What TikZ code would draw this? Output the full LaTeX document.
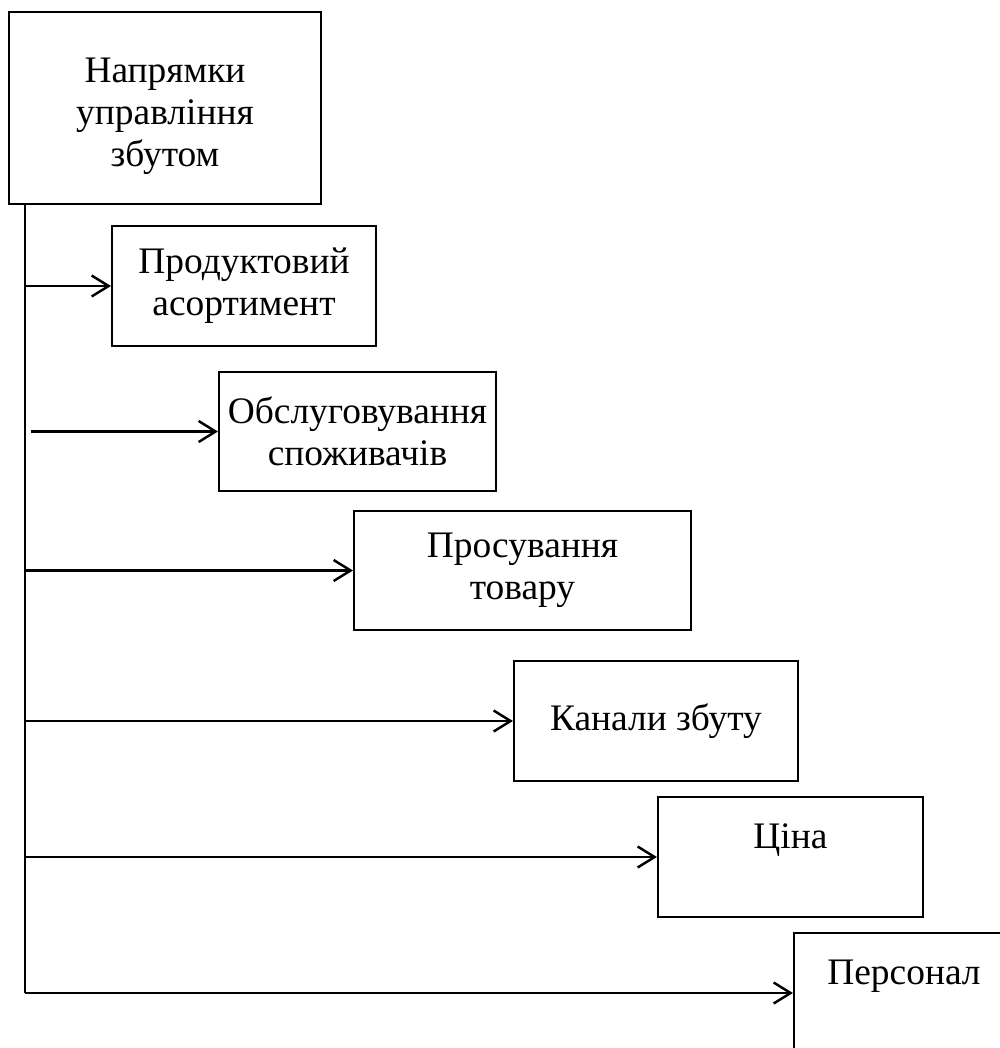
\documentclass[tikz,border=0pt]{standalone}
\usepackage{fontspec}
\setmainfont{Liberation Serif}
\usetikzlibrary{arrows.meta, positioning}

\begin{document}
\begin{tikzpicture}[x=0.02cm, y=-0.02cm, line width=1.2pt,
        box/.style={draw, align=center, inner sep=0pt, font=\fontsize{21.3}{24}\selectfont},
        arr/.style={line width=1.4pt, -{Straight Barb[length=3.4mm, width=4.2mm, line width=1.4pt]}}]
        \useasboundingbox (0,0) rectangle (1000,1048);
        \clip (0,0) rectangle (1000,1048);

        % Main box at the top left
        \node [box, minimum width=6.24cm, minimum height=3.84cm] (main) at (165,108) {\rule{0pt}{23pt}Напрямки\\управління\\збутом};

        % The six directions, stepping down to the right
        \node [box, minimum width=5.28cm, minimum height=2.4cm] (b1) at (244,286) {Продуктовий\\асортимент};
        \node [box, minimum width=5.54cm, minimum height=2.38cm] (b2) at (357.5,431.5) {Обслуговування\\споживачів};
        \node [box, minimum width=6.74cm, minimum height=2.38cm] (b3) at (522.5,570.5) {Просування\\товару};
        \node [box, minimum width=5.68cm, minimum height=2.4cm] (b4) at (656,721) {Канали збуту};
        \node [box, minimum width=5.3cm, minimum height=2.4cm] (b5) at (790.5,857) {Ціна\\~};
        \node [box, minimum width=4.4cm, minimum height=2.4cm] (b6) at (904,993) {Персонал\\~};

        % Vertical line down from the main box
        \coordinate (trunk) at (25,204);
        \draw (trunk) -- (b6.west -| trunk);

        % Arrows from the line to each box
        \foreach \b in {b1,b3,b4,b5,b6}
        {
        \draw [arr] (\b.west -| trunk) -- (\b.west);
        }
        \draw [arr] (b2.west -| trunk) ++(6,0) -- (b2.west);
\end{tikzpicture}
\end{document}
